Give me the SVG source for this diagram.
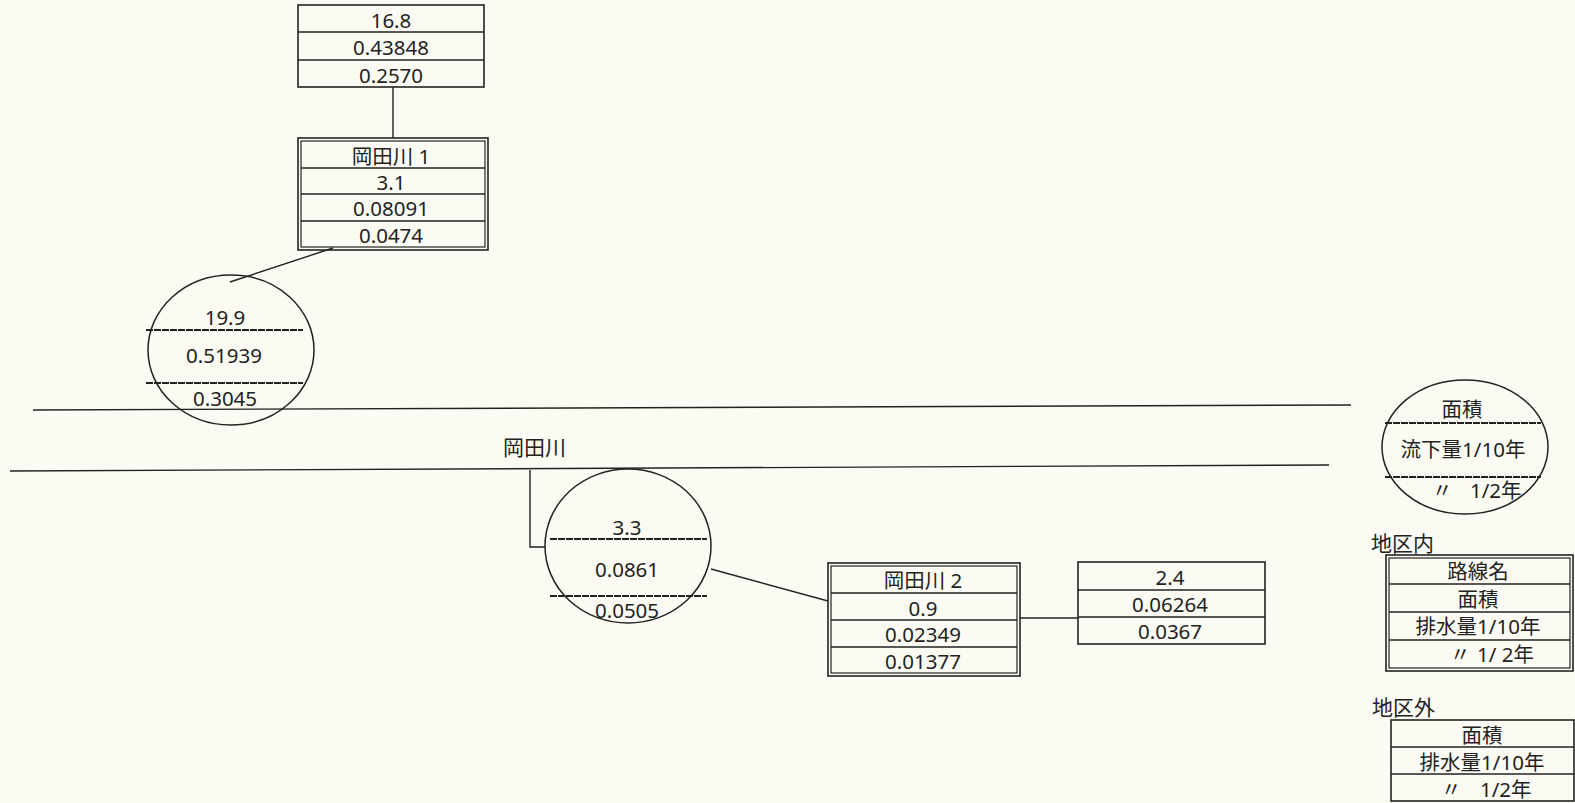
<svg xmlns="http://www.w3.org/2000/svg" width="1575" height="803" viewBox="0 0 1575 803">
<style>
  .bg{fill:#fbfbf4}
  .box{fill:none;stroke:#222;stroke-width:1.6}
  .in{fill:none;stroke:#222;stroke-width:1.2}
  .row{stroke:#222;stroke-width:1.5}
  .dash{stroke:#222;stroke-width:2;stroke-dasharray:7 1}
  .ell{fill:none;stroke:#222;stroke-width:1.5}
  .ln{fill:none;stroke:#222;stroke-width:1.4}
  .t{font-family:"Noto Sans","Noto Sans CJK JP",sans-serif;font-size:20.5px;fill:#222;text-anchor:middle}
  .s{font-family:"Noto Sans","Noto Sans CJK JP",sans-serif;font-size:20.5px;fill:#222}
  .lab{font-family:"Noto Sans CJK JP","Noto Sans",sans-serif;font-size:21px;fill:#222}
</style>
<rect class="bg" x="0" y="0" width="1575" height="803"/>

<g id="connectors">
  <line class="ln" x1="393" y1="87" x2="393" y2="138"/>
  <line class="ln" x1="333" y1="248" x2="230" y2="282"/>
  <polyline class="ln" points="530,470 530,547 545,547"/>
  <line class="ln" x1="711" y1="569" x2="828" y2="601"/>
  <line class="ln" x1="1020" y1="618" x2="1078" y2="618"/>
</g>

<g id="river">
  <line class="ln" x1="33" y1="410" x2="1351" y2="405"/>
  <line class="ln" x1="10" y1="471" x2="1329" y2="465"/>
  <text class="lab" x="503" y="455">岡田川</text>
</g>

<g id="box-top">
  <rect class="box" x="298" y="5" width="186" height="82"/>
  <line class="row" x1="298" y1="32" x2="484" y2="32"/>
  <line class="row" x1="298" y1="60" x2="484" y2="60"/>
  <text class="t" x="391" y="28">16.8</text>
  <text class="t" x="391" y="55">0.43848</text>
  <text class="t" x="391" y="83">0.2570</text>
</g>

<g id="box-okada1">
  <rect class="box" x="298" y="138" width="190" height="112"/>
  <rect class="in" x="301" y="141" width="184" height="106"/>
  <line class="row" x1="301" y1="168" x2="485" y2="168"/>
  <line class="row" x1="301" y1="194" x2="485" y2="194"/>
  <line class="row" x1="301" y1="221" x2="485" y2="221"/>
  <text class="t" x="391" y="164">岡田川 1</text>
  <text class="t" x="391" y="190">3.1</text>
  <text class="t" x="391" y="216">0.08091</text>
  <text class="t" x="391" y="243">0.0474</text>
</g>

<g id="circle-1">
  <ellipse class="ell" cx="231" cy="350" rx="83" ry="75"/>
  <line class="dash" x1="146" y1="330" x2="303" y2="330"/>
  <line class="dash" x1="146" y1="383" x2="303" y2="383"/>
  <text class="t" x="225" y="325">19.9</text>
  <text class="t" x="224" y="363">0.51939</text>
  <text class="t" x="225" y="406">0.3045</text>
</g>

<g id="circle-2">
  <ellipse class="ell" cx="628" cy="546" rx="83" ry="77"/>
  <line class="dash" x1="550" y1="539" x2="707" y2="539"/>
  <line class="dash" x1="550" y1="596" x2="707" y2="596"/>
  <text class="t" x="627" y="535">3.3</text>
  <text class="t" x="627" y="577">0.0861</text>
  <text class="t" x="627" y="618">0.0505</text>
</g>

<g id="box-okada2">
  <rect class="box" x="828" y="563" width="192" height="113"/>
  <rect class="in" x="831" y="566" width="186" height="107"/>
  <line class="row" x1="831" y1="593" x2="1017" y2="593"/>
  <line class="row" x1="831" y1="620" x2="1017" y2="620"/>
  <line class="row" x1="831" y1="647" x2="1017" y2="647"/>
  <text class="t" x="923" y="588">岡田川 2</text>
  <text class="t" x="923" y="616">0.9</text>
  <text class="t" x="923" y="642">0.02349</text>
  <text class="t" x="923" y="669">0.01377</text>
</g>

<g id="box-24">
  <rect class="box" x="1078" y="562" width="187" height="82"/>
  <line class="row" x1="1078" y1="590" x2="1265" y2="590"/>
  <line class="row" x1="1078" y1="617" x2="1265" y2="617"/>
  <text class="t" x="1170" y="585">2.4</text>
  <text class="t" x="1170" y="612">0.06264</text>
  <text class="t" x="1170" y="639">0.0367</text>
</g>

<g id="legend-circle">
  <ellipse class="ell" cx="1465" cy="447" rx="83" ry="67"/>
  <line class="dash" x1="1385" y1="423" x2="1541" y2="423"/>
  <line class="dash" x1="1385" y1="477" x2="1541" y2="477"/>
  <text class="t" x="1462" y="417">面積</text>
  <text class="t" x="1463" y="457">流下量1/10年</text>
  <text class="s" x="1432" y="498">〃</text>
  <text class="s" x="1470" y="498">1/2年</text>
</g>

<g id="legend-inner">
  <text class="lab" x="1371" y="551">地区内</text>
  <rect class="box" x="1386" y="555" width="187" height="116"/>
  <rect class="in" x="1389" y="558" width="181" height="110"/>
  <line class="row" x1="1389" y1="584" x2="1570" y2="584"/>
  <line class="row" x1="1389" y1="612" x2="1570" y2="612"/>
  <line class="row" x1="1389" y1="640" x2="1570" y2="640"/>
  <text class="t" x="1478" y="579">路線名</text>
  <text class="t" x="1478" y="607">面積</text>
  <text class="t" x="1478" y="634">排水量1/10年</text>
  <text class="s" x="1450" y="662">〃</text>
  <text class="s" x="1477" y="662">1/ 2年</text>
</g>

<g id="legend-outer">
  <text class="lab" x="1372" y="715">地区外</text>
  <rect class="box" x="1391" y="720" width="183" height="81"/>
  <line class="row" x1="1391" y1="747" x2="1574" y2="747"/>
  <line class="row" x1="1391" y1="774" x2="1574" y2="774"/>
  <text class="t" x="1482" y="743">面積</text>
  <text class="t" x="1482" y="770">排水量1/10年</text>
  <text class="s" x="1441" y="797">〃</text>
  <text class="s" x="1480" y="797">1/2年</text>
</g>
</svg>
